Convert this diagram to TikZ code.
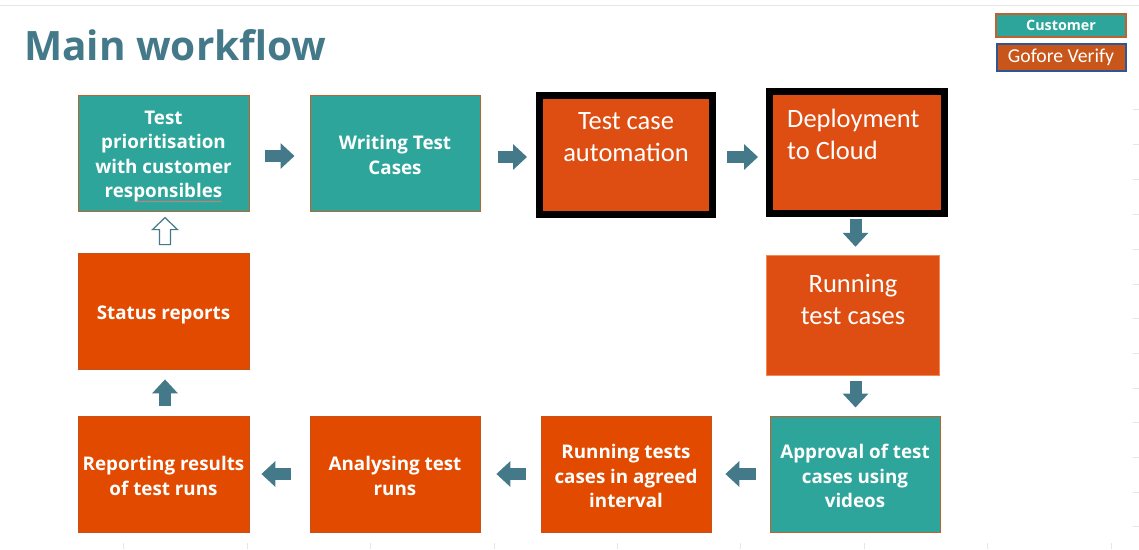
\documentclass[tikz,border=0pt]{standalone}
\usepackage{fontspec}
\setmainfont{Open Sans}
\newfontfamily\calib{Carlito}
\usetikzlibrary{arrows.meta,calc,decorations.pathmorphing}
\definecolor{teal1}{HTML}{2DA59A}
\definecolor{orng}{HTML}{E24A00}
\definecolor{orng2}{HTML}{DE4E12}
\definecolor{arrowc}{HTML}{44798A}
\definecolor{titlec}{HTML}{44798A}
\definecolor{custedge}{HTML}{C0622F}
\definecolor{gvedge}{HTML}{C4521A}
\definecolor{legor}{HTML}{C8561A}
\definecolor{legblue}{HTML}{2F5597}
\definecolor{lightedge}{HTML}{F08A50}
\definecolor{gridc}{HTML}{E6E6E6}
\begin{document}
\begin{tikzpicture}[x=1pt,y=-1pt,
  box/.style={rectangle, minimum width=171pt, minimum height=116pt, inner sep=0pt},
  btext/.style={inner sep=0pt, text=white, align=center, font=\bfseries\fontsize{18.8}{24.5}\selectfont},
  cust/.style={box, fill=teal1, draw=custedge, line width=1pt},
  gv/.style={box, fill=orng, draw=gvedge, line width=0.8pt},
  bigbox/.style={rectangle, inner sep=0pt, fill=orng2},
  bigtext/.style={inner sep=0pt, text=white, font=\calib\fontsize{26.5}{32}\selectfont},
  barrow/.style={draw=arrowc, line width=12pt, -{Triangle[length=14pt,width=25pt]}},
  hollow/.style={draw=arrowc, line width=1.2pt, fill=white, line join=miter},
  grid/.style={draw=gridc, line width=0.8pt}
]
\useasboundingbox (0,0) rectangle (1139,549);
\fill[white] (0,0) rectangle (1139,549);
% faint spreadsheet grid remnants
\draw[grid] (0,5) -- (1139,5);
\foreach \yy in {109,144,179,214,249,284,318,353,388,422,457,492,526}
  \draw[grid] (1133,\yy) -- (1139,\yy);
\foreach \xx in {123,247,370,494,617,740,864,987,1111}
  \draw[grid] (\xx,543) -- (\xx,549);

% title
\node[anchor=west, inner sep=0pt, text=titlec, font=\bfseries\fontsize{40.5}{48}\selectfont] (title) at (24,45) {Main workflow};

% legend
\node[rectangle, minimum width=130pt, minimum height=23pt, inner sep=0pt, fill=teal1, draw=custedge, line width=1.5pt,
  text=white, font=\bfseries\fontsize{14.3}{16}\selectfont] (legc) at (1061,25.5) {Customer};
\node[rectangle, minimum width=129pt, minimum height=27pt, inner sep=0pt, fill=legor, draw=legblue, line width=2pt,
  text=white, font=\calib\fontsize{19.7}{22}\selectfont] (legg) at (1061,57) {Gofore Verify};

% boxes
\node[cust] (p1) at (163.5,153) {};
\node[btext] (t1) at ($(p1.center)+(0,3.5)$) {Test\\prioritisation\\with customer\\responsibles};
\node[cust, minimum width=170pt] (p2) at (395,153) {};
\node[btext] (t2) at ($(p2.center)+(0,2)$) {Writing Test\\Cases};
\node[bigbox, draw=black, line width=7pt, minimum width=173pt, minimum height=119pt] (p3) at (626,155) {};
\node[bigtext, align=center] (t3) at (626,137) {Test case\\automation};
\node[bigbox, draw=black, line width=7pt, minimum width=175pt, minimum height=122pt] (p4) at (857,152.5) {};
\node[bigtext, align=left, anchor=west] (t4) at (787,134) {Deployment\\to Cloud};
\node[bigbox, draw=lightedge, line width=1.5pt, minimum width=173pt, minimum height=120pt] (p5) at (853,315.5) {};
\node[bigtext, align=center] (t5) at (853,299) {Running\\test cases};
\node[cust, minimum width=170pt] (p6) at (855,474) {};
\node[btext] (t6) at ($(p6.center)+(0,2)$) {Approval of test\\cases using\\videos};
\node[gv, minimum width=170pt] (p7) at (626,474) {};
\node[btext] (t7) at ($(p7.center)+(0,2)$) {Running tests\\cases in agreed\\interval};
\node[gv, minimum width=170pt] (p8) at (395,474) {};
\node[btext] (t8) at ($(p8.center)+(0,2)$) {Analysing test\\runs};
\node[gv] (p9) at (163.5,474) {};
\node[btext] (t9) at ($(p9.center)+(0,2)$) {Reporting results\\of test runs};
\node[gv] (p10) at (163.5,311) {};
\node[btext] (t10) at ($(p10.center)+(0,3.5)$) {Status reports};

% spell-check squiggle
\draw[draw=red!55, line width=0.5pt, decorate, decoration={snake, amplitude=0.6pt, segment length=3pt}]
  ($(p1.south)+(-28,-10)$) -- ($(p1.south)+(58,-10)$);

% arrows top row
\coordinate (a1) at ($(p1.east)+(0,3)$);
\draw[barrow, shorten <=15pt, shorten >=15pt] (a1) -- (a1 -| p2.west);
\coordinate (a2) at ($(p2.east)+(0,4)$);
\draw[barrow, shorten <=17pt, shorten >=9pt] (a2) -- (a2 -| p3.west);
\coordinate (a3) at ($(p3.east)+(0,2)$);
\draw[barrow, shorten <=11pt, shorten >=8pt] (a3) -- (a3 -| p4.west);
% down arrows
\coordinate (d1) at ($(p4.south)+(-1.5,0)$);
\draw[barrow, shorten <=2pt, shorten >=8pt] (d1) -- (d1 |- p5.north);
\coordinate (d2) at ($(p5.south)+(2.5,0)$);
\draw[barrow, shorten <=5pt, shorten >=8pt] (d2) -- (d2 |- p6.north);
% bottom row, leftwards
\draw[barrow, shorten <=14pt, shorten >=14pt] (p6.west) -- (p7.east);
\draw[barrow, shorten <=15pt, shorten >=16pt] (p7.west) -- (p8.east);
\draw[barrow, shorten <=19pt, shorten >=12pt] (p8.west) -- (p9.east);
% up arrows
\coordinate (u1) at ($(p9.north)+(1.5,0)$);
\draw[barrow, shorten <=10pt, shorten >=10pt] (u1) -- (u1 |- p10.south);
\coordinate (h0) at ($(p10.north)+(1.5,-8)$);
\draw[hollow] (h0) ++(-5.5,0) -- ++(0,-15) -- ++(-7,0) -- ++(12.5,-12) -- ++(12.5,12) -- ++(-7,0) -- ++(0,15) -- cycle;
\end{tikzpicture}
\end{document}
